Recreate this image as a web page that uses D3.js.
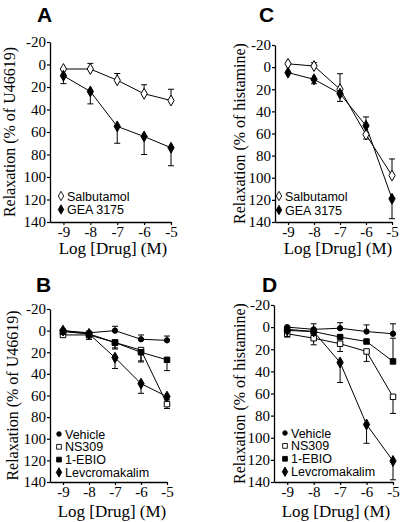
<!DOCTYPE html>
<html><head><meta charset="utf-8">
<script src="https://cdn.jsdelivr.net/npm/d3@7"></script>
<style>
html,body{margin:0;padding:0;background:#fff;}
svg{display:block;}
</style>
</head><body>
<script>
// ---- data ----
const doses = [-9, -8, -7, -6, -5];
const xTicks = [-9, -8, -7, -6, -5];
const yTicks = [-20, 0, 20, 40, 60, 80, 100, 120, 140];
const xTitle = "Log [Drug] (M)";

// Panel A (relaxation % of U46619); error sign gives the side of the one-sided bar
const aSalbutamol    = [4, 4, 14, 26, 32];
const aSalbutamolErr = [0, -5, -6, -8, -10];
const aGEA           = [10, 24, 55, 64, 74];
const aGEAErr        = [7, 11, 15, 16, 16];

// Panel C (relaxation % of histamine)
const cSalbutamol    = [-3, -1, 20, 61, 98];
const cSalbutamolErr = [0, -3, -14, 4, -15];
const cGEA           = [5, 11, 24, 53, 119];
const cGEAErr        = [0, 4, 7, -8, 18];

// Panel B (relaxation % of U46619)
const bVehicle    = [0, 2, 0, 8, 9];
const bVehicleErr = [0, 0, -4, -4, -4];
const bNS309      = [4, 4, 11, 18, 68];
const bNS309Err   = [0, 4, 5, 10, 4];
const bEBIO       = [1, 3, 11, 20, 27];
const bEBIOErr    = [0, 5, 6, 9, 10];
const bLevc       = [0, 3, 25, 49, 61];
const bLevcErr    = [0, 3, 10, 9, 3];

// Panel D (relaxation % of histamine)
const dVehicle    = [0, 2, 1, 4, 6];
const dVehicleErr = [0, -5, -5, -6, -9];
const dNS309      = [6, 10, 15, 22, 63];
const dNS309Err   = [3, 6, 7, 9, 15];
const dEBIO       = [2, 4, 9, 13, 31];
const dEBIOErr    = [0, 0, 0, 0, -21];
const dLevc       = [3, 4, 32, 88, 121];
const dLevcErr    = [0, 0, 18, 17, 17];

const panels = [
  {letter:"A", ytitle:"Relaxation (% of U46619)", x0:50, x1:171, y0:42, y1:222,
   lx:37, ly:22, ytx:10, xtx:113, xty:254, legX:61, legY:196, legDy:13.5,
   series:[
     {name:"Salbutamol", vals:aSalbutamol, err:aSalbutamolErr, shape:"diamond", fill:"#fff"},
     {name:"GEA 3175", vals:aGEA, err:aGEAErr, shape:"diamond", fill:"#000"}]},
  {letter:"C", ytitle:"Relaxation (% of histamine)", x0:275, x1:392, y0:45, y1:222,
   lx:259, ly:22, ytx:240, xtx:338, xty:254, legX:279, legY:196, legDy:14,
   series:[
     {name:"Salbutamol", vals:cSalbutamol, err:cSalbutamolErr, shape:"diamond", fill:"#fff"},
     {name:"GEA 3175", vals:cGEA, err:cGEAErr, shape:"diamond", fill:"#000"}]},
  {letter:"B", ytitle:"Relaxation (% of U46619)", x0:50, x1:167, y0:309, y1:482,
   lx:36, ly:292, ytx:13, xtx:112, xty:517, legX:59, legY:434, legDy:12.8,
   series:[
     {name:"Vehicle", vals:bVehicle, err:bVehicleErr, shape:"circle", fill:"#000"},
     {name:"NS309", vals:bNS309, err:bNS309Err, shape:"square", fill:"#fff"},
     {name:"1-EBIO", vals:bEBIO, err:bEBIOErr, shape:"square", fill:"#000"},
     {name:"Levcromakalim", vals:bLevc, err:bLevcErr, shape:"diamond", fill:"#000"}]},
  {letter:"D", ytitle:"Relaxation (% of histamine)", x0:274, x1:393, y0:305, y1:482,
   lx:262, ly:292, ytx:240, xtx:336, xty:517, legX:285, legY:433, legDy:12.9,
   series:[
     {name:"Vehicle", vals:dVehicle, err:dVehicleErr, shape:"circle", fill:"#000"},
     {name:"NS309", vals:dNS309, err:dNS309Err, shape:"square", fill:"#fff"},
     {name:"1-EBIO", vals:dEBIO, err:dEBIOErr, shape:"square", fill:"#000"},
     {name:"Levcromakalim", vals:dLevc, err:dLevcErr, shape:"diamond", fill:"#000"}]}
];

const SERIF = "'Liberation Serif','Times New Roman',Times,serif";
const SANS = "'Liberation Sans',Arial,Helvetica,sans-serif";
const fmt = d => (d < 0 ? "-" + Math.abs(d) : String(d));

const svg = d3.select("body").append("svg").attr("width", 401).attr("height", 522);

const symType = {diamond:d3.symbolDiamond, square:d3.symbolSquare, circle:d3.symbolCircle};
const symSize = {diamond:34, square:30, circle:22};

panels.forEach(p => {
  const g = svg.append("g");
  const x = d3.scaleLinear().domain([-9.5, -5]).range([p.x0, p.x1]);
  const y = d3.scaleLinear().domain([-20, 140]).range([p.y0, p.y1]);

  // axes
  const ya = g.append("g").attr("transform", `translate(${p.x0},0)`)
    .call(d3.axisLeft(y).tickValues(yTicks).tickFormat(fmt).tickSize(3).tickPadding(1).tickSizeOuter(0));
  const xa = g.append("g").attr("transform", `translate(0,${p.y1})`)
    .call(d3.axisBottom(x).tickValues(xTicks).tickFormat(fmt).tickSize(3).tickPadding(1).tickSizeOuter(0));
  [ya, xa].forEach(a => {
    a.attr("font-family", SERIF).attr("font-size", 15);
    a.select(".domain").attr("stroke", "#000").attr("stroke-width", 1.3);
    a.selectAll(".tick line").attr("stroke", "#000").attr("stroke-width", 1.2);
    a.selectAll(".tick text").attr("fill", "#000")
      .style("font-family", SERIF).style("font-size", "15px");
  });

  // lines, error bars, markers
  p.series.forEach(s => {
    const pts = doses.map((d, i) => ({d, v:s.vals[i], e:s.err[i]}));
    g.append("path").datum(pts)
      .attr("d", d3.line().x(q => x(q.d)).y(q => y(q.v)))
      .attr("fill", "none").attr("stroke", "#000").attr("stroke-width", 1);
    pts.filter(q => q.e !== 0).forEach(q => {
      const cx = x(q.d), ye = y(q.v + q.e);
      g.append("line").attr("x1", cx).attr("x2", cx).attr("y1", y(q.v)).attr("y2", ye)
        .attr("stroke", "#000").attr("stroke-width", 1);
      g.append("line").attr("x1", cx - 3).attr("x2", cx + 3).attr("y1", ye).attr("y2", ye)
        .attr("stroke", "#000").attr("stroke-width", 1);
    });
  });
  p.series.forEach(s => {
    g.selectAll(null).data(doses.map((d, i) => ({d, v:s.vals[i]}))).enter().append("path")
      .attr("transform", q => `translate(${x(q.d)},${y(q.v)})`)
      .attr("d", d3.symbol().type(symType[s.shape]).size(symSize[s.shape]))
      .attr("fill", s.fill).attr("stroke", "#000").attr("stroke-width", 1);
  });

  // legend
  p.series.forEach((s, i) => {
    const ly = p.legY + i * p.legDy;
    g.append("path").attr("transform", `translate(${p.legX},${ly})`)
      .attr("d", d3.symbol().type(symType[s.shape]).size(symSize[s.shape] * 0.75))
      .attr("fill", s.fill).attr("stroke", "#000").attr("stroke-width", 0.9);
    g.append("text").attr("x", p.legX + 6).attr("y", ly).attr("dy", "0.36em")
      .style("font-family", SANS).style("font-size", "12.5px")
      .text(s.name);
  });

  // titles
  g.append("text").attr("transform", `translate(${p.ytx + 5},${(p.y0 + p.y1) / 2}) rotate(-90)`)
    .attr("text-anchor", "middle")
    .style("font-family", SERIF).style("font-size", "16px")
    .text(p.ytitle);
  g.append("text").attr("x", p.xtx).attr("y", p.xty).attr("text-anchor", "middle")
    .style("font-family", SERIF).style("font-size", "17px")
    .text(xTitle);
  g.append("text").attr("x", p.lx).attr("y", p.ly)
    .style("font-family", SANS).style("font-size", "21px")
    .style("font-weight", "bold").text(p.letter);
});
</script>
</body></html>
